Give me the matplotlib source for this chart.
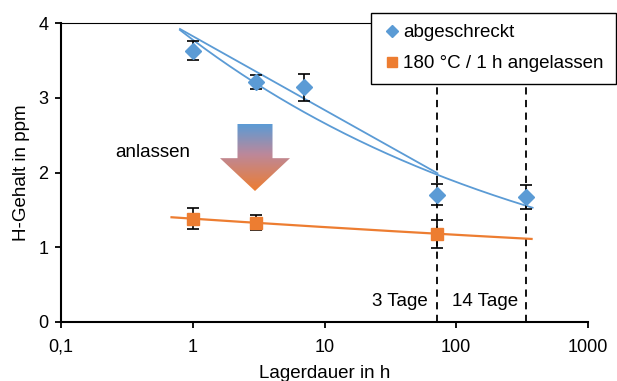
import numpy as np
import matplotlib
matplotlib.use("Agg")
import matplotlib.pyplot as plt
from matplotlib.patches import Polygon
from matplotlib.colors import LinearSegmentedColormap
from matplotlib.lines import Line2D

plt.rcParams['font.family'] = ['Liberation Sans', 'DejaVu Sans']
plt.rcParams['font.size'] = 13

# ---- data ----
x_quench = [1, 3, 7, 72, 336]
y_quench = [3.63, 3.21, 3.14, 1.70, 1.67]
err_quench = [0.13, 0.09, 0.18, 0.14, 0.16]

x_temper = [1, 3, 72]
y_temper = [1.38, 1.33, 1.18]
err_temper = [0.14, 0.10, 0.19]

# trend line ranges
trend_quench_range = [0.8, 380]
trend_temper_range = [0.69, 373]
# second (straight) blue trend line endpoints
trend2_x = [0.8, 72]
trend2_y = [3.92, 1.99]

storage_marks = [72, 336]
storage_labels = ["3 Tage", "14 Tage"]

xtick_vals = [0.1, 1, 10, 100, 1000]
xtick_labels = ["0,1", "1", "10", "100", "1000"]
ytick_vals = [0, 1, 2, 3, 4]
ytick_labels = ["0", "1", "2", "3", "4"]

label_quench = "abgeschreckt"
label_temper = "180 °C / 1 h angelassen"

BLUE = "#5B9BD5"
ORANGE = "#ED7D31"

W, H = 617, 381
fig = plt.figure(figsize=(W / 100, H / 100), dpi=100)
ax = fig.add_axes([61 / W, (H - 322) / H, 527 / W, 299 / H])
ax.set_xscale('log')
ax.set_xlim(0.1, 1000)
ax.set_ylim(0, 4)

# trend lines (power fits)
def power_fit(x, y, rng):
    b, lna = np.polyfit(np.log(x), np.log(y), 1)
    xx = np.geomspace(rng[0], rng[1], 200)
    return xx, np.exp(lna) * xx ** b

xx, yy = power_fit(x_quench, y_quench, trend_quench_range)
ax.plot(xx, yy, color=BLUE, lw=1.3, zorder=2)
ax.plot(trend2_x, trend2_y, color=BLUE, lw=1.3, zorder=2)
xx, yy = power_fit(x_temper, y_temper, trend_temper_range)
ax.plot(xx, yy, color=ORANGE, lw=1.6, zorder=2)

# vertical dashed lines
for xm in storage_marks:
    ax.axvline(xm, color='black', lw=1.3, ls=(0, (4, 3)), zorder=1)

# error bars + markers
ax.errorbar(x_quench, y_quench, yerr=err_quench, fmt='none', ecolor='black',
            elinewidth=1.2, capsize=4, capthick=1.2, zorder=3)
ax.plot(x_quench, y_quench, 'D', color=BLUE, ms=8, mec=BLUE, zorder=4)
ax.errorbar(x_temper, y_temper, yerr=err_temper, fmt='none', ecolor='black',
            elinewidth=1.2, capsize=4, capthick=1.2, zorder=3)
ax.plot(x_temper, y_temper, 's', color=ORANGE, ms=8, mec=ORANGE, zorder=4)

# texts
ax.annotate(storage_labels[0], xy=(storage_marks[0], 0.27), xytext=(-7, 0),
            textcoords='offset points', ha='right', va='center', fontsize=13.5)
ax.annotate(storage_labels[1], xy=(storage_marks[0], 0.27), xytext=(10.5, 0),
            textcoords='offset points', ha='left', va='center', fontsize=13.5)
ax.text(115 / W, 1 - 153 / H, "anlassen", transform=fig.transFigure,
        ha='left', va='center', fontsize=13.5)

# axes styling
ax.set_xticks(xtick_vals)
ax.set_xticklabels(xtick_labels)
ax.xaxis.set_minor_locator(matplotlib.ticker.NullLocator())
ax.set_yticks(ytick_vals)
ax.set_yticklabels(ytick_labels)
ax.tick_params(axis='both', direction='out', length=4, width=1.3, colors='black',
               labelsize=13)
ax.tick_params(axis='x', pad=8)
ax.tick_params(axis='y', pad=5)
for s in ['left', 'bottom']:
    ax.spines[s].set_linewidth(1.5)
ax.spines['right'].set_visible(False)
ax.spines['top'].set_linewidth(0.8)
ax.set_xlabel("Lagerdauer in h", fontsize=13.5, labelpad=7)
ax.set_ylabel("H-Gehalt in ppm", fontsize=13.5, labelpad=6)

# gradient arrow
aax = fig.add_axes([220 / W, (H - 191) / H, 70 / W, 67 / H])
aax.set_xlim(0, 1)
aax.set_ylim(0, 1)
aax.axis('off')
cmap = LinearSegmentedColormap.from_list('g', [(0, ORANGE), (0.55, '#BC889A'), (1, BLUE)])
grad = np.linspace(0, 1, 256).reshape(-1, 1)
im = aax.imshow(grad, extent=[0, 1, 0, 1], origin='lower', cmap=cmap, aspect='auto')
poly = Polygon([(0.25, 1), (0.75, 1), (0.75, 0.49), (1, 0.49), (0.5, 0),
                (0, 0.49), (0.25, 0.49)], closed=True, transform=aax.transData,
               facecolor='none', edgecolor='none')
aax.add_patch(poly)
im.set_clip_path(poly)

# legend
handles = [Line2D([], [], marker='D', color=BLUE, ls='none', ms=6),
           Line2D([], [], marker='s', color=ORANGE, ls='none', ms=7)]
leg = fig.legend(handles, [label_quench, label_temper], loc='upper left',
                 bbox_to_anchor=(371 / W, 1 - 12.7 / H, 245 / W, 0.0),
                 mode='expand', borderaxespad=0, fancybox=False, framealpha=1,
                 edgecolor='black', handlelength=1.0, handletextpad=0.1,
                 labelspacing=0.75, borderpad=0.6, fontsize=13.5)
leg.get_frame().set_linewidth(1.0)

fig.savefig("out.png", dpi=100)
